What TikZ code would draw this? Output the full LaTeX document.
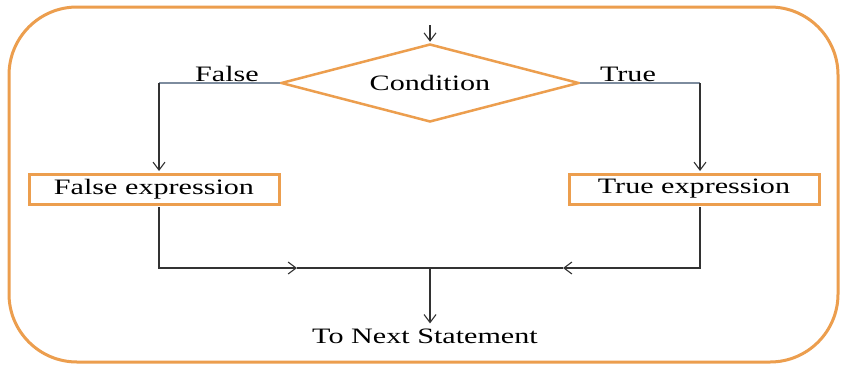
\documentclass[tikz,border=0pt]{standalone}
\usepackage{fontspec}
\setmainfont{Liberation Serif}
\usetikzlibrary{shapes.geometric,arrows.meta}
\definecolor{frameorange}{RGB}{236,158,78}
\definecolor{wire}{RGB}{50,50,50}
\definecolor{wirelight}{RGB}{125,140,158}
% text is set slightly widened
\newcommand{\widetext}[1]{\scalebox{1.37}[1]{#1}}
\begin{document}
\begin{tikzpicture}[x=1pt,y=-1pt,
  txt/.style={font=\fontsize{22}{25}\selectfont, inner sep=0pt},
  exprbox/.style={txt, draw=frameorange, line width=3pt, fill=white,
    minimum width=250pt, minimum height=30pt},
  decision/.style={txt, diamond, aspect=3.8, draw=frameorange, line width=2.5pt,
    minimum width=298pt, minimum height=78pt},
  wireline/.style={draw=wire, line width=1.1pt},
  flow/.style={wireline, -{Straight Barb[length=8pt,width=12pt]}},
  branch/.style={draw=wirelight, line width=1.1pt}
]
\useasboundingbox (0,0) rectangle (842,364);
\fill[white] (0,0) rectangle (842,364);

% outer frame
\draw[frameorange, line width=3pt, rounded corners=68pt] (9,7) rectangle (838,362);

% nodes
\node[decision] (cond) at (430,83) {\widetext{Condition}};
\node[exprbox] (fexp) at (154,189) {\widetext{False expression}};
\node[exprbox] (texp) at (694,189) {\widetext{True expression}};
\node[txt] (next) at (425,336) {\widetext{To Next Statement}};
\node[txt] (flabel) at (227,74) {\widetext{False}};
\node[txt] (tlabel) at (628,74) {\widetext{True}};

% routing points
\coordinate (entry) at (430,25);
\coordinate (fl) at (159,83);
\coordinate (tr) at (700,83);
\coordinate (merge) at (430,268);
\coordinate (fa) at (297,268);
\coordinate (ta) at (563,268);

% entry
\draw[flow] (entry) -- ([yshift=1pt]cond.north);

% branches
\draw[branch] (cond.west) -- (fl);
\draw[flow] (fl) -- ([yshift=1.5pt]fl |- fexp.north);
\draw[branch] (cond.east) -- (tr);
\draw[flow] (tr) -- ([yshift=1.5pt]tr |- texp.north);

% joins
\draw[flow] ([yshift=-1.5pt]fl |- fexp.south) |- (fa);
\draw[wireline] (fa) -- (merge);
\draw[flow] ([yshift=-1.5pt]tr |- texp.south) |- (ta);
\draw[wireline] (ta) -- (merge);

% exit
\draw[flow] (merge) -- ([yshift=5pt]merge |- next.north);
\end{tikzpicture}
\end{document}
